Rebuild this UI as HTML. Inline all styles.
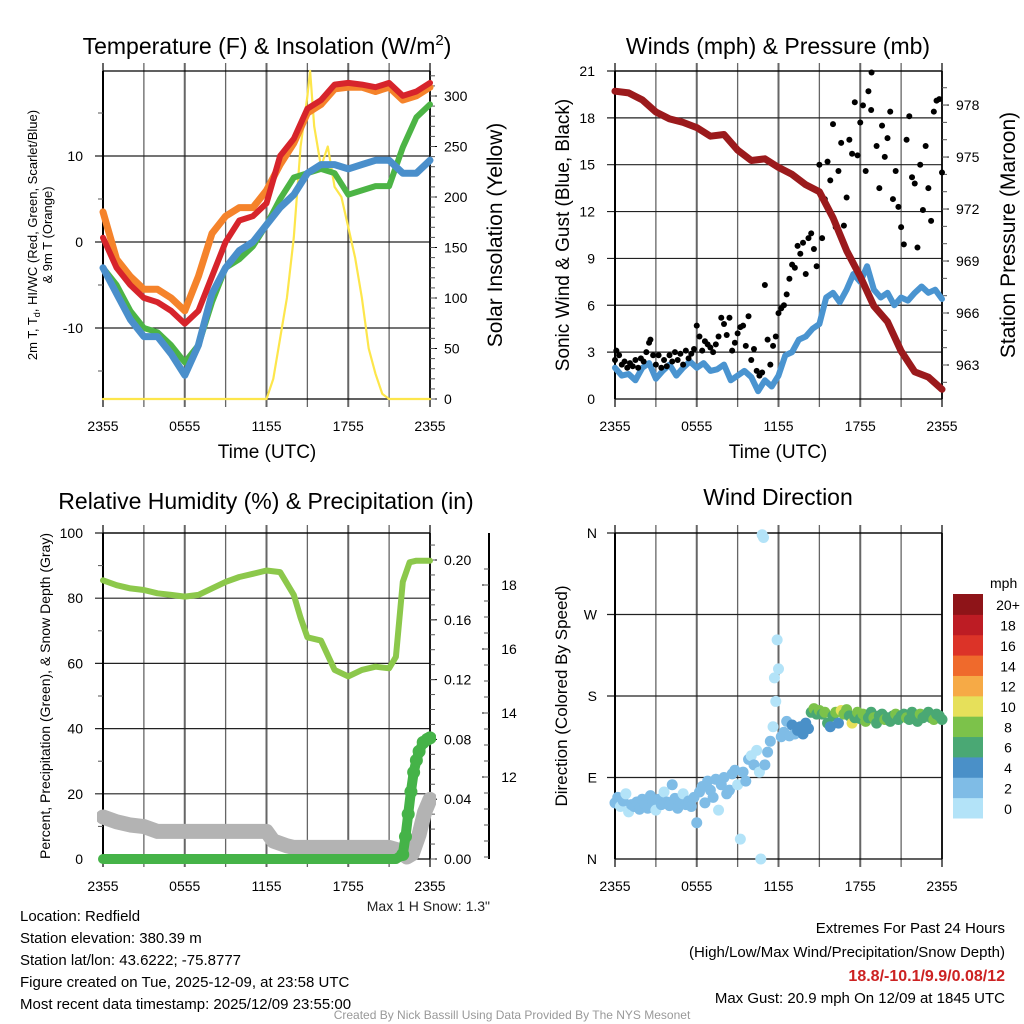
<!DOCTYPE html>
<html><head><meta charset="utf-8"><title>Mesonet Meteogram</title>
<style>
html,body{margin:0;padding:0;background:#fff;}
svg{display:block;font-family:"Liberation Sans",sans-serif;}
</style></head>
<body>
<svg id="chart" width="1024" height="1024" viewBox="0 0 1024 1024" xmlns="http://www.w3.org/2000/svg">
<rect width="1024" height="1024" fill="#fff"/>
<g id="layer"></g>
<text x="267" y="54" font-size="23" text-anchor="middle">Temperature (F) &amp; Insolation (W/m<tspan dy="-9" font-size="15">2</tspan><tspan dy="9">)</tspan></text>
<text x="778" y="54" font-size="23" text-anchor="middle">Winds (mph) &amp; Pressure (mb)</text>
<text x="266" y="509" font-size="23" text-anchor="middle">Relative Humidity (%) &amp; Precipitation (in)</text>
<text x="778" y="505" font-size="23" text-anchor="middle">Wind Direction</text>
<text x="267" y="458" font-size="19" text-anchor="middle">Time (UTC)</text>
<text x="778" y="458" font-size="19" text-anchor="middle">Time (UTC)</text>
<text transform="translate(37,235) rotate(-90)" font-size="13" text-anchor="middle">2m T, T<tspan dy="3" font-size="9">d</tspan><tspan dy="-3">, HI/WC (Red, Green, Scarlet/Blue)</tspan></text>
<text transform="translate(52,235) rotate(-90)" font-size="13" text-anchor="middle">&amp; 9m T (Orange)</text>
<text transform="translate(502,235) rotate(-90)" font-size="21" text-anchor="middle">Solar Insolation (Yellow)</text>
<text transform="translate(569,235) rotate(-90)" font-size="19" text-anchor="middle">Sonic Wind &amp; Gust (Blue, Black)</text>
<text transform="translate(1015,235) rotate(-90)" font-size="21" text-anchor="middle">Station Pressure (Maroon)</text>
<text transform="translate(50,696) rotate(-90)" font-size="14" text-anchor="middle">Percent, Precipitation (Green), &amp; Snow Depth (Gray)</text>
<text transform="translate(567,696) rotate(-90)" font-size="17" text-anchor="middle">Direction (Colored By Speed)</text>
<text x="490" y="911" font-size="14" text-anchor="end" fill="#222">Max 1 H Snow: 1.3"</text>
<text x="990" y="588" font-size="14" text-anchor="start">mph</text>
<g font-size="15" fill="#000">
<text x="20" y="921">Location: Redfield</text>
<text x="20" y="943">Station elevation: 380.39 m</text>
<text x="20" y="965">Station lat/lon: 43.6222; -75.8777</text>
<text x="20" y="987">Figure created on Tue, 2025-12-09, at 23:58 UTC</text>
<text x="20" y="1009">Most recent data timestamp: 2025/12/09 23:55:00</text>
</g>
<g font-size="15" text-anchor="end">
<text x="1005" y="933">Extremes For Past 24 Hours</text>
<text x="1005" y="957">(High/Low/Max Wind/Precipitation/Snow Depth)</text>
<text x="1005" y="981" font-weight="bold" fill="#cc2222" font-size="16">18.8/-10.1/9.9/0.08/12</text>
<text x="1005" y="1003">Max Gust: 20.9 mph On 12/09 at 1845 UTC</text>
</g>
<text x="512" y="1019" font-size="12" text-anchor="middle" fill="#999">Created By Nick Bassill Using Data Provided By The NYS Mesonet</text>
</svg>
<script>
const hours = [0,1,2,3,4,5,6,7,8,9,10,11,12,13,14,15,16,17,18,19,20,21,22,23,24];
const tempRed = [0.5,-3,-5,-6.5,-7,-8,-9.5,-8,-4,0,2.5,3,4.5,10,12,15.5,16.5,18.3,18.5,18.3,18,18.5,17,17.5,18.5];
const tempOrange = [3.5,-2,-4,-5.5,-5.5,-6.5,-8,-4,1,3,4,4,6,9,11.5,15,16,17.8,18,18,17.5,18,16.5,17,18];
const dewGreen = [-3,-5,-8,-10,-10.5,-12,-14,-12,-7,-3,-2,-0.5,2,5,7.5,8,8.5,8,5.5,6,6.5,6.5,11,14.5,16];
const chillBlue = [-3,-6,-9,-11,-11,-13,-15.5,-12,-6,-3,-1,0,2,4,5.5,8,9,9,8.5,9,9.5,9.5,8,8,9.5];
const solarHours = [0,12,12.5,13,13.5,14,14.5,15,15.2,15.5,16,16.5,17,17.5,18,18.5,19,19.5,20,20.5,21,24];
const solarVals = [0,0,20,60,100,160,250,300,325,270,230,250,210,200,170,140,100,50,25,5,0,0];
const halfHours = [0,0.5,1,1.5,2,2.5,3,3.5,4,4.5,5,5.5,6,6.5,7,7.5,8,8.5,9,9.5,10,10.5,11,11.5,12,12.5,13,13.5,14,14.5,15,15.5,16,16.5,17,17.5,18,18.5,19,19.5,20,20.5,21,21.5,22,22.5,23,23.5,24];
const windSpeed = [2.0,1.5,1.6,1.2,2.0,2.3,1.3,1.8,2.2,1.5,2.0,2.4,2.0,2.3,1.8,1.9,2.2,1.2,1.5,1.8,1.4,0.5,1.2,0.8,1.5,2.8,3.0,3.8,4.0,4.5,4.8,6.5,6.8,6.2,7.0,8.0,7.5,8.5,7.0,6.5,6.8,6.0,6.5,6.3,6.8,7.2,6.8,7.0,6.4];
const pressure = [978.8,978.7,978.3,977.6,977.2,977.0,976.7,976.2,976.3,975.4,974.8,974.9,974.4,974.0,973.4,973.0,971.5,969.6,968.1,966.4,965.5,963.8,962.6,962.3,961.6];
const gusts = [[0,2.5],[0.1,3.1],[0.3,2.8],[0.5,2.2],[0.7,2.4],[0.9,2.0],[1.1,2.3],[1.3,2.1],[1.5,2.5],[1.7,2.0],[1.9,2.6],[2.1,2.4],[2.3,3.0],[2.5,3.6],[2.6,3.8],[2.8,2.8],[3.0,2.2],[3.2,2.8],[3.4,2.0],[3.6,2.5],[3.8,2.1],[4.0,2.8],[4.2,2.4],[4.4,3.0],[4.6,2.5],[4.8,2.9],[5.0,2.2],[5.2,3.1],[5.4,2.6],[5.6,2.9],[5.8,3.2],[6.0,4.7],[6.2,4.0],[6.4,3.1],[6.6,3.7],[6.8,3.5],[7.0,3.3],[7.2,3.0],[7.4,3.5],[7.6,4.0],[7.8,5.2],[8.0,4.8],[8.2,4.1],[8.4,5.2],[8.6,3.1],[8.8,3.6],[9.0,4.2],[9.2,4.6],[9.4,4.7],[9.6,3.4],[9.8,5.3],[10.0,2.5],[10.2,3.2],[10.4,1.8],[10.6,1.5],[10.8,1.7],[11.0,7.3],[11.2,3.8],[11.4,2.2],[11.6,3.4],[11.8,4.0],[12.0,5.5],[12.2,5.8],[12.4,6.0],[12.6,6.7],[12.8,7.7],[13.0,8.6],[13.2,8.4],[13.4,9.8],[13.6,9.3],[13.8,10.0],[14.0,8.0],[14.2,10.3],[14.4,10.6],[14.6,9.6],[14.8,8.5],[15.0,15.0],[15.2,10.3],[15.4,12.8],[15.6,15.2],[15.8,14.0],[16.0,17.6],[16.2,11.0],[16.4,14.6],[16.6,16.4],[16.8,11.1],[17.0,12.9],[17.2,16.6],[17.4,15.7],[17.6,19.0],[17.8,15.6],[18.0,17.7],[18.2,18.8],[18.4,14.6],[18.6,19.7],[18.8,18.5],[18.83,20.9],[19.2,16.2],[19.4,13.5],[19.6,17.5],[19.8,15.5],[20.0,16.7],[20.2,18.4],[20.4,12.8],[20.6,14.6],[20.8,12.3],[21.0,11.0],[21.2,9.9],[21.4,16.6],[21.6,18.1],[21.8,14.2],[22.0,13.8],[22.2,9.7],[22.4,15.0],[22.6,12.1],[22.8,16.2],[23.0,13.5],[23.2,11.4],[23.4,18.4],[23.6,19.1],[23.8,19.2],[24.0,14.5]];
const rhHours = [0,1,2,3,4,5,6,7,8,9,10,11,12,13,14,14.5,15,16,17,18,19,20,21,21.5,22,22.5,23,24];
const rhVals = [85.5,84,83,82.5,81.5,81,80.5,81,83,85,86.5,87.5,88.5,88,81,74,68,67,58,56,58,59,58.5,62,85,91,91.5,91.5];
const snowHours = [0,1,2,3,4,6,12,12.5,13.5,14,21,21.8,22.3,22.7,23.2,23.6,24];
const snowVals = [10.75,10.6,10.5,10.45,10.3,10.3,10.3,10.0,9.85,9.8,9.8,9.7,9.5,9.6,10.2,10.9,11.3];
const precipHours = [0,2,4,6,8,10,12,14,16,18,20,21.5,22,22.2,22.4,22.6,22.8,23,23.2,23.5,23.8,24];
const precipVals = [0,0,0,0,0,0,0,0,0,0,0,0,0.003,0.015,0.03,0.045,0.058,0.066,0.072,0.078,0.08,0.081];
const dirPoints = [[0,62,2],[0.2,68,3],[0.4,58,1],[0.6,64,2],[0.8,72,1],[1,52,1],[1.2,60,2],[1.4,58,2],[1.6,63,2],[1.8,55,2],[2,66,2],[2.2,60,2],[2.4,56,2],[2.6,70,3],[2.8,62,2],[3,54,1],[3.2,66,2],[3.4,60,2],[3.6,74,1],[3.8,63,2],[4,59,2],[4.2,82,3],[4.4,67,2],[4.6,56,2],[4.8,62,2],[5,72,1],[5.2,60,2],[5.4,64,2],[5.6,58,2],[5.8,68,2],[6,40,2],[6.2,74,2],[6.4,80,2],[6.6,62,2],[6.8,86,2],[7,76,2],[7.2,68,2],[7.4,88,2],[7.6,54,1],[7.8,82,2],[8,90,2],[8.2,72,2],[8.4,76,2],[8.6,94,2],[8.8,98,3],[9,82,1],[9.2,22,1],[9.4,96,2],[9.6,86,2],[9.8,110,2],[10,114,1],[10.2,104,2],[10.4,120,1],[10.6,96,1],[10.8,358,0],[10.9,355,0],[10.7,0,0],[11,104,2],[11.2,118,2],[11.4,130,2],[11.6,146,1],[11.8,174,0],[12,210,0],[11.9,242,0],[11.7,200,0],[12.2,135,2],[12.4,140,3],[12.6,152,2],[12.8,136,2],[13,148,4],[13.2,138,3],[13.4,142,4],[13.6,146,4],[13.8,138,4],[14,150,4],[14.2,144,4],[14.4,162,6],[14.6,166,8],[14.8,160,6],[15,164,8],[15.2,160,6],[15.4,162,8],[15.6,150,6],[15.8,146,4],[16,158,6],[16.2,162,8],[16.4,150,4],[16.6,164,10],[16.8,160,8],[17,165,8],[17.2,158,6],[17.4,150,10],[17.6,156,6],[17.8,162,8],[18,155,6],[18.2,160,8],[18.4,152,8],[18.6,156,6],[18.8,162,6],[19,156,8],[19.2,150,6],[19.4,158,6],[19.6,160,6],[19.8,154,8],[20,156,6],[20.2,152,6],[20.4,158,6],[20.6,160,8],[20.8,154,6],[21,158,6],[21.2,160,6],[21.4,156,8],[21.6,154,6],[21.8,162,6],[22,158,6],[22.2,152,6],[22.4,160,8],[22.6,156,6],[22.8,158,6],[23,162,6],[23.2,156,6],[23.4,154,8],[23.6,160,6],[23.8,158,6],[24,154,6]];
const timeTickLabels = ['2355','0555','1155','1755','2355'];
const speedBinLabels = ['0','2','4','6','8','10','12','14','16','18','20+'];
const dirTickLabels = ['N','E','S','W','N'];

const NS='http://www.w3.org/2000/svg';
const layer=document.getElementById('layer');
function el(tag,attrs,parent){const e=document.createElementNS(NS,tag);for(const k in attrs)e.setAttribute(k,attrs[k]);(parent||layer).appendChild(e);return e;}
function tag(e,n,i){
  
  
  return e;}
const binColors=['#b3e3f8','#7fbce6','#4a90c8','#4aa874','#7cc24a','#e6e05a','#f6aa46','#ef6a2c','#dc3328','#bd1c24','#8e1418'];

function panel(L,R,T,B){return {L,R,T,B,x:h=>L+h*(R-L)/24};}
const P1=panel(103,430,71,399),P2=panel(615,942,71,399),P3=panel(103,430,533,859),P4=panel(615,942,533,859);
const yT=v=>242-v*8.6, yS=v=>399-v*1.01;
const yW=v=>399-v*15.62, yP=v=>365-(v-963)*17.33;
const yRH=v=>859-v*3.26, yPr=v=>859-v*1495, ySn=v=>777-(v-12)*32;
const yD=d=>859-d*326/360;

function grid(P,hLines,name){
  for(let i=0;i<=8;i++){const x=P.L+i*(P.R-P.L)/8;
    tag(el('line',{x1:x,x2:x,y1:P.T-8,y2:P.B+8,stroke:'#666','stroke-width':i%2?1.3:2}),name+'-vgrid');}
  hLines.forEach(y=>tag(el('line',{x1:P.L-8,x2:P.R,y1:y,y2:y,stroke:'#222','stroke-width':1.2}),name+'-hgrid'));
  tag(el('line',{x1:P.L,x2:P.L,y1:P.T,y2:P.B,stroke:'#000','stroke-width':2}),name+'-left-axis');
  tag(el('line',{x1:P.R,x2:P.R,y1:P.T,y2:P.B,stroke:'#000','stroke-width':1.5}),name+'-right-axis');
  tag(el('line',{x1:P.L,x2:P.R,y1:P.T,y2:P.T,stroke:'#000','stroke-width':1.2}),name+'-top-axis');
  tag(el('line',{x1:P.L,x2:P.R,y1:P.B,y2:P.B,stroke:'#000','stroke-width':1.2}),name+'-bottom-axis');
  timeTickLabels.forEach((t,i)=>{const x=P.L+i*(P.R-P.L)/4;
    const tx=tag(el('text',{x:x,y:P.B+32,'font-size':14,'text-anchor':'middle'}),name+'-x-tick-label');tx.textContent=t;});
}
function yTicks(vals,f,x,side,labels,name,len,fs){
  vals.forEach((v,i)=>{const y=f(v);
    tag(el('line',{x1:x,x2:x+(side<0?-len:len),y1:y,y2:y,stroke:'#000','stroke-width':1}),name+'-tick');
    if(labels){const t=tag(el('text',{x:side<0?x-12:x+14,y:y+5,'font-size':fs||14,'text-anchor':side<0?'end':'start'}),name+'-tick-label');t.textContent=labels[i];}});
}
function minor(vals,f,x,side,name){vals.forEach(v=>{const y=f(v);tag(el('line',{x1:x,x2:x+(side<0?-5:5),y1:y,y2:y,stroke:'#555','stroke-width':1}),name+'-minor-tick');});}
function range(a,b,s){const r=[];for(let v=a;v<=b+1e-9;v+=s)r.push(+v.toFixed(4));return r;}
function line(xs,ys,P,f,color,w,name){
  const d=xs.map((h,i)=>(i?'L':'M')+P.x(h).toFixed(1)+','+f(ys[i]).toFixed(1)).join('');
  return tag(el('path',{d:d,fill:'none',stroke:color,'stroke-width':w,'stroke-linejoin':'round','stroke-linecap':'round'}),name);
}
const clip=(id,P)=>{const c=el('clipPath',{id:id});el('rect',{x:P.L-6,y:P.T-2,width:P.R-P.L+12,height:P.B-P.T+8},c);};
clip('c1',P1);clip('c2',P2);clip('c3',P3);

// Panel 1
grid(P1,[10,0,-10].map(yT),'temp');
yTicks([10,0,-10],yT,P1.L-8,-1,['10','0','-10'],'temp-y',0);
minor([15,5,-5,-15],yT,P1.L,-1,'temp-y');
yTicks(range(0,300,50),yS,P1.R,1,range(0,300,50).map(String),'solar-y',7);
minor(range(0,320,10),yS,P1.R,1,'solar-y');
const g1=tag(el('g',{'clip-path':'url(#c1)'}),'temp-series');
[[solarHours,solarVals,yS,'#fde64b',2.2,'solar-line'],[hours,dewGreen,yT,'#4cb445',6,'dewpoint-line'],[hours,chillBlue,yT,'#4a8fcb',7,'windchill-line'],[hours,tempOrange,yT,'#f5832b',7,'temp-9m-line'],[hours,tempRed,yT,'#d7242b',6,'temp-2m-line']].forEach(s=>{
  const p=line(s[0],s[1],P1,s[2],s[3],s[4],s[5]);g1.appendChild(p);});

// Panel 2
grid(P2,range(3,21,3).map(yW),'wind');
yTicks(range(0,21,3),yW,P2.L-8,-1,range(0,21,3).map(String),'wind-y',0);
yTicks(range(963,978,3),yP,P2.R,1,range(963,978,3).map(String),'pressure-y',7);
minor(range(962,979,1),yP,P2.R,1,'pressure-y');
const g2=tag(el('g',{'clip-path':'url(#c2)'}),'wind-series');
g2.appendChild(line(halfHours,windSpeed,P2,yW,'#4a94d0',6,'wind-speed-line'));
gusts.forEach(g=>{const c=el('circle',{cx:P2.x(g[0]),cy:yW(g[1]),r:3,fill:'#000'},g2);
  
  });
g2.appendChild(line(hours,pressure,P2,yP,'#9b1a1c',7,'pressure-line'));

// Panel 3
grid(P3,[20,40,60,80,100].map(yRH),'rh');
yTicks(range(0,100,20),yRH,P3.L-8,-1,range(0,100,20).map(String),'rh-y',0);
minor([10,30,50,70,90],yRH,P3.L,-1,'rh-y');
yTicks(range(0,0.2,0.04),yPr,P3.R,1,range(0,0.2,0.04).map(v=>v.toFixed(2)),'precip-y',7);
minor(range(0,0.21,0.01),yPr,P3.R,1,'precip-y');
tag(el('line',{x1:489,x2:489,y1:533,y2:859,stroke:'#000','stroke-width':2}),'snow-axis');
yTicks([12,14,16,18],ySn,489,-1,null,'snow-y',7);
[12,14,16,18].forEach(v=>{const t=tag(el('text',{x:509,y:ySn(v)+5,'font-size':14,'text-anchor':'middle'}),'snow-y-tick-label');t.textContent=String(v);});
minor(range(9.5,18.5,0.5),ySn,489,-1,'snow-y');
const g3=tag(el('g',{'clip-path':'url(#c3)'}),'rh-series');
g3.appendChild(line(snowHours,snowVals,P3,ySn,'#b3b3b3',15,'snow-depth-line'));
g3.appendChild(line(rhHours,rhVals,P3,yRH,'#8cc84b',6,'rh-line'));
g3.appendChild(line(precipHours,precipVals,P3,yPr,'#45b348',10,'precip-line'));
precipHours.forEach((h,i)=>{if(h>=22){const c=el('circle',{cx:P3.x(h),cy:yPr(precipVals[i]),r:6.5,fill:'#45b348'},g3);
  
  }});

// Panel 4
grid(P4,[90,180,270,360].map(yD),'dir');
dirTickLabels.forEach((t,i)=>{const y=yD(i*90);const tx=tag(el('text',{x:P4.L-18,y:y+5,'font-size':14,'text-anchor':'end'}),'dir-y-tick-label');tx.textContent=t;});
dirPoints.forEach(p=>{const b=Math.min(10,Math.floor(p[2]/2));
  const c=el('circle',{cx:P4.x(p[0]),cy:yD(p[1]),r:5.5,fill:binColors[b]});
  
  });
// colorbar
speedBinLabels.forEach((lab,i)=>{const h=224/11;const y=818-(i+1)*h;
  const r=el('rect',{x:953,y:y,width:30,height:h+0.5,fill:binColors[i]});
  
  
  const t=tag(el('text',{x:1008,y:y+h/2+6,'font-size':14,'text-anchor':'middle'}),'colorbar-label');t.textContent=lab;});
</script>
</body></html>
